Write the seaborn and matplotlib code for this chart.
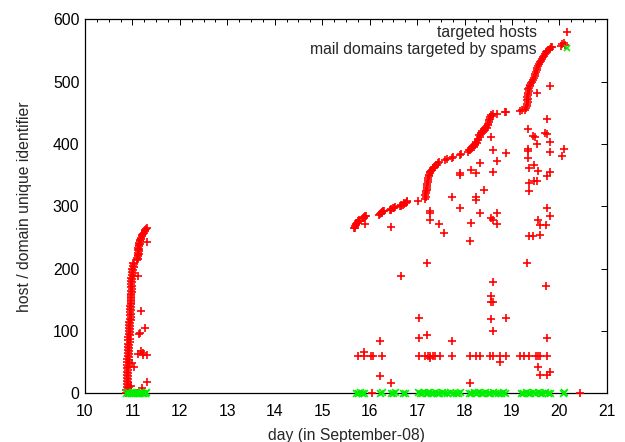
import pandas as pd
import numpy as np
import seaborn as sns
import matplotlib.pyplot as plt
from matplotlib.ticker import MultipleLocator
from matplotlib.lines import Line2D

# 1. Datos leídos a ojo del gráfico original
# Curva principal (id de cada host nuevo) alrededor del día 11
curva_dia_11 = [10.87, 10.87, 10.88, 10.88, 10.88, 10.88, 10.88, 10.89, 10.89, 10.89, 10.89, 10.89,
                10.90, 10.90, 10.90, 10.91, 10.91, 10.91, 10.91, 10.92,
                10.92, 10.93, 10.93, 10.93, 10.94, 10.94, 10.94, 10.95,
                10.95, 10.96, 10.96, 10.96, 10.97, 10.97, 10.97, 10.98,
                10.98, 10.98, 10.99, 10.99, 11.00, 11.01, 11.02,
                11.10, 11.10, 11.11, 11.11, 11.12, 11.12, 11.13, 11.14, 11.15, 11.18, 11.21, 11.24, 11.27, 11.30]
curva_id_11 = [0, 5, 10, 15, 20, 25, 30, 35, 40, 45, 50, 55,
               60, 65, 70, 75, 80, 85, 90, 95,
               100, 105, 110, 115, 120, 125, 130, 135,
               140, 145, 150, 155, 160, 165, 170, 175,
               180, 185, 190, 195, 200, 205, 210,
               214, 218, 222, 226, 230, 234, 238, 242, 246, 250, 254, 258, 262, 266]

# Borde derecho de la misma banda (la curva se ve gruesa)
banda_dia_11 = [10.90, 10.90, 10.90, 10.90, 10.91, 10.91, 10.91, 10.91, 10.91, 10.92, 10.92, 10.92,
                10.92, 10.93, 10.93, 10.93, 10.94, 10.94, 10.94, 10.94,
                10.95, 10.95, 10.95, 10.96, 10.96, 10.96, 10.97, 10.97,
                10.97, 10.98, 10.98, 10.98, 10.99, 10.99, 10.99, 11.00,
                11.00, 11.01, 11.01, 11.02, 11.03, 11.04,
                11.12, 11.12, 11.13, 11.13, 11.14, 11.14, 11.15, 11.16, 11.17, 11.20, 11.23, 11.26, 11.29]
banda_id_11 = [3, 8, 13, 18, 23, 28, 33, 38, 43, 48, 53, 58,
               63, 68, 73, 78, 83, 88, 93, 98,
               103, 108, 113, 118, 123, 128, 133, 138,
               143, 148, 153, 158, 163, 168, 173, 178,
               183, 188, 193, 198, 203, 208,
               216, 220, 224, 228, 232, 236, 240, 244, 248, 252, 256, 260, 264]

# Curva principal entre los días 15.7 y 20.1
curva_dia_2 = [15.68, 15.69, 15.71, 15.73, 15.76, 15.78,
               15.87, 15.89, 15.92,
               16.20, 16.23, 16.26, 16.30,
               16.43, 16.46, 16.50, 16.53,
               16.64, 16.67, 16.70, 16.73, 16.76, 16.79,
               17.02,
               17.16, 17.17, 17.18, 17.20, 17.21, 17.23, 17.25, 17.27, 17.30, 17.34, 17.38, 17.42, 17.47,
               17.59, 17.62, 17.73, 17.76, 17.90, 17.93,
               18.08, 18.12, 18.15, 18.19, 18.22, 18.26, 18.29, 18.32, 18.35, 18.38, 18.43, 18.47, 18.50,
               18.52, 18.54, 18.57, 18.59,
               18.68, 18.85, 18.88,
               19.17, 19.22, 19.27,
               19.30, 19.31, 19.31, 19.32, 19.33, 19.34, 19.37, 19.41, 19.45, 19.48, 19.50, 19.53, 19.57,
               19.61, 19.65, 19.69, 19.74, 19.80, 19.84,
               20.03, 20.06, 20.09, 20.11]
curva_id_2 = [265, 268, 271, 273, 276, 278,
              281, 283, 285,
              287, 289, 291, 293,
              294, 296, 297, 299,
              300, 302, 303, 305, 306, 308,
              309,
              312, 318, 324, 330, 336, 342, 348, 353, 357, 361, 364, 367, 371,
              375, 376, 377, 379, 382, 384,
              388, 391, 394, 396, 399, 402, 406, 411, 416, 419, 422, 426, 430,
              436, 441, 445, 448,
              449, 451, 452,
              453, 454, 455,
              458, 464, 470, 476, 482, 488, 493, 498, 503, 510, 516, 522, 528,
              534, 540, 545, 549, 553, 556,
              557, 560, 562, 559]

# Relleno de la banda en los tramos 15.7 - 19.8
banda_dia_2 = [15.70, 15.72, 15.75, 15.77, 15.88, 15.91, 16.22, 16.25, 16.28, 16.45, 16.52,
               16.66, 16.72, 16.78,
               17.18, 17.19, 17.20, 17.21, 17.22, 17.24, 17.26, 17.28, 17.32, 17.36, 17.40, 17.45,
               18.10, 18.14, 18.17, 18.21, 18.24, 18.28, 18.31, 18.34, 18.37, 18.41, 18.45, 18.49,
               18.51, 18.53, 18.56,
               19.32, 19.33, 19.33, 19.34, 19.35, 19.36, 19.39, 19.43, 19.47, 19.49, 19.52, 19.55,
               19.59, 19.63, 19.67, 19.72, 19.77, 19.82]
banda_id_2 = [266, 270, 274, 277, 282, 284, 288, 290, 292, 295, 298,
              301, 304, 307,
              315, 321, 327, 333, 339, 345, 350, 355, 359, 363, 366, 369,
              390, 393, 397, 400, 404, 408, 414, 418, 421, 424, 428, 433,
              438, 443, 447,
              461, 467, 473, 479, 485, 490, 495, 500, 506, 513, 519, 525,
              531, 537, 542, 547, 551, 555]

# Hosts que vuelven a aparecer (puntos sueltos)
extra_dia = [11.30, 11.12, 11.19, 11.265, 11.16, 11.145, 11.19, 11.23, 11.12, 11.23, 11.30, 11.00, 11.03,
             11.30, 11.20, 10.93, 10.97, 11.09,
             15.90, 16.44, 16.66, 16.22, 16.22, 16.44, 15.76, 15.89, 15.89, 16.03, 16.06, 16.27, 16.04,
             17.03, 17.03, 17.20, 17.20, 17.27, 17.27, 17.27, 17.47, 17.565, 17.03, 17.17, 17.22, 17.27,
             17.27, 17.33, 17.38, 17.48, 17.73, 17.73, 17.90, 17.73, 17.90, 17.90,
             18.13, 18.33, 18.25, 18.59, 18.59, 18.68, 18.55, 18.87, 18.40, 18.25, 18.25, 18.33, 18.13,
             18.11, 18.55, 18.59, 18.68, 18.68, 18.59, 18.55, 18.55, 18.60, 18.55, 18.59, 18.87, 18.11,
             18.25, 18.33, 18.53, 18.59, 18.75, 18.87, 18.75, 18.12,
             19.33, 19.53, 19.81, 19.73, 19.45, 19.48, 19.70, 19.74, 19.80, 19.53, 19.33, 19.33, 19.80,
             20.10, 20.05, 19.33, 19.47, 19.36, 19.55, 19.80, 19.74, 19.36, 19.47, 19.53, 19.36, 19.74,
             19.80, 19.54, 19.59, 19.71, 19.36, 19.45, 19.60, 19.31, 19.71, 19.74, 19.17, 19.25, 19.36,
             19.50, 19.55, 19.60, 19.74, 19.55, 19.59, 19.73, 19.80, 20.43]
extra_id = [243, 188, 132, 105, 97, 96, 68, 64, 63, 61, 61, 48, 43,
            18, 8, 10, 12, 1,
            272, 267, 188, 84, 28, 17, 60, 60, 67, 60, 60, 60, 0,
            121, 89, 210, 93, 293, 289, 279, 271, 258, 60, 60, 60, 60,
            56, 60, 60, 60, 60, 315, 298, 84, 354, 350,
            358, 370, 354, 390, 356, 373, 411, 386, 326, 315, 310, 290, 274,
            244, 282, 279, 289, 272, 178, 156, 147, 147, 119, 100, 121, 60,
            60, 60, 60, 60, 60, 60, 50, 17,
            424, 482, 493, 440, 413, 412, 417, 416, 403, 400, 392, 389, 387,
            392, 381, 377, 367, 361, 357, 355, 349, 338, 340, 340, 324, 297,
            284, 279, 270, 270, 253, 253, 254, 210, 173, 89, 60, 60, 60,
            60, 60, 60, 60, 43, 29, 29, 35, 1]

# Dominios de correo atacados (todos pegados al eje)
dominio_dia = [10.87, 10.90, 10.93, 10.96, 10.99, 11.02, 11.05, 11.08, 11.11, 11.14, 11.17, 11.20, 11.23, 11.26, 11.29,
               15.71, 15.75, 15.79, 15.83, 15.88,
               16.21, 16.26, 16.45, 16.50, 16.54, 16.70, 16.75,
               17.01, 17.06, 17.10, 17.15, 17.20, 17.24, 17.29, 17.33, 17.38, 17.42, 17.47, 17.52, 17.56,
               17.64, 17.70, 17.76, 17.82, 17.86, 17.91,
               18.10, 18.14, 18.19, 18.24, 18.29, 18.34, 18.39, 18.44, 18.49, 18.54, 18.59, 18.64, 18.70,
               18.76, 18.81, 18.86,
               19.19, 19.24, 19.29, 19.34, 19.39, 19.44, 19.49, 19.54, 19.59, 19.64, 19.69, 19.75, 19.81,
               20.07, 20.10]
dominio_id = [0, 2, 1, 0, 3, 1, 0, 2, 1, 0, 2, 0, 1, 0, 2,
              1, 0, 2, 0, 1,
              0, 2, 1, 0, 2, 0, 1,
              2, 0, 1, 3, 0, 2, 1, 0, 2, 1, 0, 3, 1,
              0, 2, 0, 1, 0, 2,
              0, 1, 2, 0, 3, 1, 0, 2, 1, 0, 2, 0, 1,
              0, 2, 1,
              1, 0, 2, 0, 1, 3, 0, 2, 1, 0, 2, 0, 1,
              0, 2]

ROJO = "#ff0000"
VERDE = "#00ee00"

# 2. Armar los DataFrames
df_hosts = pd.DataFrame({
    "dia": curva_dia_11 + banda_dia_11 + curva_dia_2 + banda_dia_2 + extra_dia,
    "id": curva_id_11 + banda_id_11 + curva_id_2 + banda_id_2 + extra_id,
})
df_dominios = pd.DataFrame({"dia": dominio_dia, "id": dominio_id})
print(f"[INFO] hosts: {len(df_hosts)} puntos, dominios: {len(df_dominios)} puntos")

# 3. Gráfico
sns.set_style("white")
plt.rcParams['font.family'] = ['Liberation Sans', 'DejaVu Sans']

fig = plt.figure(figsize=(6.25, 4.42), dpi=100)
ax = fig.add_axes([0.136, 0.110, 0.835, 0.846])

sns.scatterplot(data=df_hosts, x="dia", y="id", marker="+", color=ROJO, s=36,
                linewidth=1.2, ax=ax, legend=False, clip_on=False, zorder=3)
sns.scatterplot(data=df_dominios, x="dia", y="id", marker="x", color=VERDE, s=24,
                linewidth=1.2, ax=ax, legend=False, clip_on=False, zorder=4)

ax.set_xlim(10, 21)
ax.set_ylim(0, 600)
ax.xaxis.set_major_locator(MultipleLocator(1))
ax.xaxis.set_minor_locator(MultipleLocator(0.25))
ax.yaxis.set_major_locator(MultipleLocator(100))
ax.tick_params(which="both", direction="in", top=True, right=True, colors="black",
               labelsize=11.3, width=0.7)
ax.tick_params(which="major", length=4.5)
ax.tick_params(which="minor", length=2.2)
ax.tick_params(axis="x", which="major", pad=8)
ax.tick_params(axis="y", which="major", pad=4)
for lado in ax.spines.values():
    lado.set_color("black")
    lado.set_linewidth(0.9)

ax.set_xlabel("day (in September-08)", fontsize=11.3, labelpad=6)
ax.set_ylabel("host / domain unique identifier", fontsize=11.3, labelpad=15)

# Leyenda estilo gnuplot: texto alineado a la derecha y marcador después
manejadores = [
    Line2D([], [], linestyle="none", marker="+", color=ROJO, markersize=6, markeredgewidth=1.2),
    Line2D([], [], linestyle="none", marker="x", color=VERDE, markersize=4.8, markeredgewidth=1.2),
]
ax.legend(manejadores, ["targeted hosts", "mail domains targeted by spams"],
          loc="upper right", bbox_to_anchor=(0.953, 1.006), frameon=False, markerfirst=False,
          fontsize=11.3, handlelength=1.0, handletextpad=1.4, labelspacing=0.1, borderpad=0)

plt.savefig("out.png", dpi=100)
print("[INFO] Gráfico guardado en out.png")
